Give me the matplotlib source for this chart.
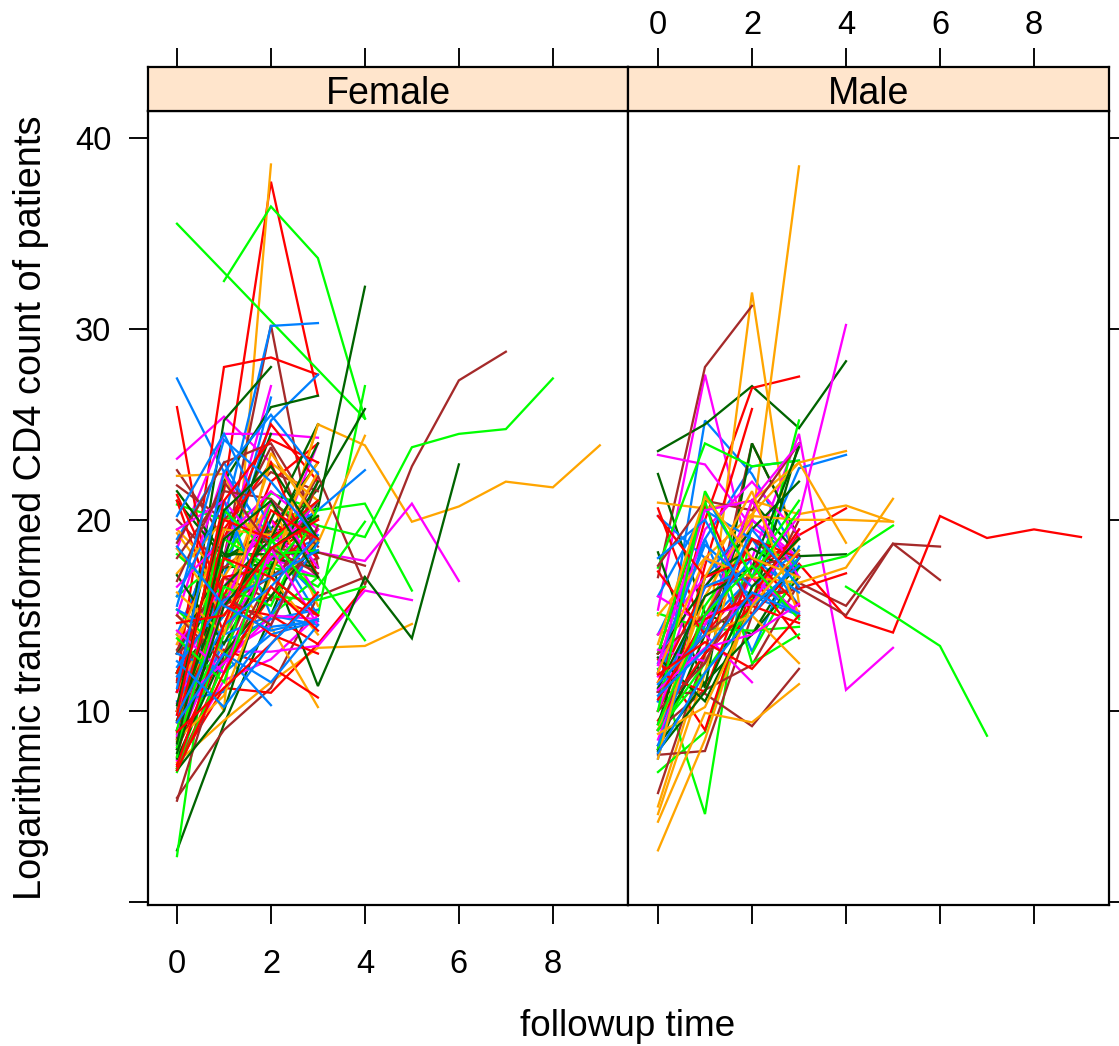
#!/usr/bin/env python3
# -*- coding: utf-8 -*-
"""Spaghetti plot of log CD4 counts by sex, lattice look."""

import matplotlib
matplotlib.use("Agg")
import numpy as np
import matplotlib.pyplot as plt

plt.rcParams["font.family"] = ["Liberation Sans", "DejaVu Sans"]

PANELS = ["Female", "Male"]
X_TICKS = [0, 2, 4, 6, 8]
Y_TICKS = [0, 10, 20, 30, 40]
Y_LABELS = ["", "10", "20", "30", "40"]

# each patient: CD4 value at followup 0, 1, 2 ... (None = no visit)
F_BLUE = [
    [27.4, 22.5, 19, 15], [14, 20, 30.15, 30.3], [13, 17, 25.2, 27.6], [10, 17, 26.4],
    [11, 13, 10.3], [9.5, 16, 19, 20.5, 22.6], [19, 23, 18.5, 16], [11.8, 15, 18, 19],
    [8.5, 13.6, 14.8, 15.3], [15.3, 14, 15, 14.5], [13, 12, 14, 14.7], [10.5, 11, 14.4, 14.7],
    [16, 21, 15, 18.8], [20.2, 24.5, 19.5], [12.3, 15.8, 17, 18.4], [9.8, 14.5, 16.5, 19.2],
    [15.5, 24.2, 22, 19], [9.4, 13, 11.5, 14.5], [12.6, 10.2, 13.5, 16], [18.6, 15.5, 14.2, 14.8],
    [11.2, 22.5, 25.5, 22.4],
]
F_MAGENTA = [
    [23.2, 25.4, 23], [10, 18, 27], [18.5, 24.5, 24.5, 24.3], [7.4, 11.6, 12.7, 15],
    [9, 13.1, 13.1, 13.4, 16.3, 15.8], [12, 16, 19, 18.3, 17.85, 20.85, 16.8],
    [15, 22.5, 17.8, 24], [11, 13, 14.5, 19.5], [19.5, 21, 18, 17], [13.5, 16.5, 20, 16],
    [8.2, 14, 18, 21], [16.5, 19, 21.5, 19.5], [10.4, 12.5, 15, 14.8], [8.7, 15.5, 21, 17.5],
    [14.2, 12, 18.5, 14.5],
]
F_DARKGREEN = [
    [2.7, 9.3, 15, 21], [10, 25.2, 28], [11, 22, 25.9, 26.5], [13, 18, 19, 21.6, 25.8],
    [12, 15, 18, 20.6, 32.2], [12, 17.5, 17.7, 11.3, 17, 13.8, 22.9], [21, 18, 19.5, 23],
    [8, 18, 24.5], [17.1, 13.5, 18, 17.5], [9, 14.5, 20, 25], [21.5, 18.2, 18.2, 18.3],
    [7.5, 13, 16, 18.8], [6.9, 10, 17.5, 22], [9.5, 16.5, 19, 24], [8.3, 19, 21, 17],
    [7.8, 15.5, 18.5, 20.2], [10.3, 20.5, 22.8, 19],
]
F_RED = [
    [13, 21.5, 37.7, 26.5], [11.6, 28, 28.5, 27.6], [25.9, 12.5, 16, 15],
    [7.2, 11.2, 10.95, 13.5, 16.5], [8, 13.2, 12.3, 10.7], [7, 12.5, 18, 20.1],
    [21, 14, 20, 18], [9, 16, 22, 24], [12, 19, 25, 22], [10, 15.5, 15, 13.5],
    [7.6, 17, 17.5, 19.5], [8.4, 19.5, 23, 17], [21.3, 16, 14, 13], [11, 20, 19, 21],
    [9.4, 18, 17, 15], [14.6, 15, 18.5, 20], [7.1, 14.5, 20.5, 19], [8.9, 11.2, 13.5, 16.2],
    [9.8, 21, 24.2, 23], [6.9, 12, 16.5, 14.2],
]
F_ORANGE = [
    [14, 10, 38.6], [7.3, 9.5, 11.5, 13.3, 13.4, 14.55],
    [19.3, 16, 17, 25, 23.9, 19.9, 20.7, 22, 21.7, 23.9],
    [14, 17, 14.4, 10.2], [11, 16, 21, 18.8, 24.4], [22.3, 22.4, 17, 14], [19.5, 17, 21, 15.5],
    [17.2, 20, 19.5, 19], [18.5, 15, 18, 22.5], [10, 15.5, 23, 21], [15, 13, 16, 19],
    [13.5, 19.5, 19.2, 23], [8.5, 10.8, 17, 25], [16.2, 14, 23.5, 20],
]
F_GREEN = [
    [35.5, 32.95, 30.4, 27.85, 25.3], [None, 32.5, 36.4, 33.7, 25.3], [2.4, 19.6, 17, 15, 27],
    [16, 18, 21.4, 20.5, 20.85, 16.3], [20.8, 20, 20.8, 19.7, 19.1, 23.8, 24.5, 24.75, 27.4],
    [15.3, 13, 15, 17, 13.7], [7, 14, 17.8, 16.5, 19.9], [12, 18, 16, 15.8, 16.5],
    [6.8, 12.5, 21, 19], [18.2, 16, 17.5, 17], [9, 19, 17.5, 20.2], [8.8, 14, 18.8, 21],
    [7.6, 20.5, 18.2, 18.4], [8.1, 16.5, 15.5, 20.6], [13.8, 11.5, 19, 16],
]
F_BROWN = [
    [12, 18, 30.2, 17.5], [5.45, 9, 11.2, 16, 17], [22.6, 19, 23.8, 18],
    [13, 15, 18, 22.3, 16.6, 22.8, 27.3, 28.8], [21.8, 20, 22.5, 21.5], [20, 17.5, 19.4, 17],
    [18.8, 23, 24, 20], [5.3, 13, 18.5, 18.3, 17.6], [11.5, 15.5, 17, 19], [13.2, 17, 15.8, 22],
    [18, 21.5, 21.1, 18.6], [15, 12.5, 17, 18], [8.6, 16, 14.5, 19.7], [16.8, 22, 18.5, 17.2],
]

M_BLUE = [
    [10.5, 25.2, 22.4, 18], [14, 19, 22.8, 23.1], [20.2, 18, 16, 15], [11, 21.3, 17, 22.7, 23.4],
    [12, 19, 13.1, 18.6], [9, 14.5, 17, 14.9], [7.5, 17, 20, 17.5], [16, 20.5, 19, 15.5],
    [10.5, 16.5, 17.5, 19], [12.5, 18.7, 16.5, 18.4], [8.2, 15, 18, 16.2], [18, 20, 15.5, 17.6],
    [11.4, 14, 19.5, 16.5], [7.8, 12, 15, 18], [10.8, 13.2, 16.2, 15.1],
]
M_MAGENTA = [
    [15.3, 27.6, 17.5, 15], [23.4, 22.9, 19.6, 18], [14, 17, 18, 24.5, 11.1, 13.3],
    [11, 18, 17, 20.2, 30.2], [11.8, 14, 11.5], [12, 19.5, 22, 19.2], [10, 16.5, 20, 18],
    [16, 14.5, 21, 24], [13.2, 12.6, 17, 15.2], [8.5, 15, 15.6, 19.5], [12.4, 20.5, 21, 17],
    [11.1, 13.3, 14, 15.6],
]
M_DARKGREEN = [
    [23.6, 25, 27, 24.8, 28.3], [22.4, 15.1, 14, 18], [18.3, 11.2, 24, 19], [8, 14, 21, 18.1, 18.2],
    [9, 13, 15.5, 24], [8.2, 11.5, 14, 17], [13, 16.5, 19.5, 22], [9.3, 17, 18.5, 17],
    [12.8, 10.5, 15.5, 17.5], [11.2, 16, 17.5, 23.8], [7.9, 11, 16.5, 19],
]
M_RED = [
    [11, 20, 26.9, 27.5], [8, 17.6, 25.8], [20.6, 14, 17, 19.2, 20.6], [12.7, 9, 16.5],
    [10, 15, 15.8, 16.4, 17.2], [13, 20.8, 15, 17.7, 14.9, 14.1, 20.2, 19.05, 19.5, 19.1],
    [9.5, 13, 15.5, 14.6], [11.5, 16.5, 17, 13.8], [12, 11, 17.5, 19], [17.3, 14, 19, 18],
    [20.2, 17, 18, 15.5], [10.6, 14.8, 16, 19.5], [11.9, 13.6, 12.2, 15],
]
M_ORANGE = [
    [5, 12.8, 31.9, 15.6], [14, 15, 19.8, 38.5], [20.9, 20.6, 21, 20.3, 20.75, 19.9],
    [2.7, 8.5, 16, 19], [4.2, 9.9, 9.4, 11.4], [4.6, 12, 21, 23, 18.8], [15, 18, 20.3, 23, 23.6],
    [9, 16, 20.2, 20, 20, 19.9], [11.5, 14, 15, 12.5], [12, 18, 17, 16.7, 17.5, 21.1],
    [7.5, 17, 21.5, 15], [13.5, 21.2, 18, 17], [8.8, 10.2, 15.5, 18.4],
]
M_GREEN = [
    [12.2, 4.6, 19.9], [6.8, 8.9, 16, 18], [17.5, 24, 22.8, 23.1], [9, 12, 15.6, 25.2],
    [15.1, 14.3, 14.2, 14.4], [None, None, 13, 17.5, 18.1, 19.7], [8, 15.5, 19, 17.5],
    [13, 21, 12.5, 14], [9, 12.5, 17.5, 21], [None, None, None, None, 16.5, 15, 13.4, 8.7],
    [10, 21.5, 17, 20.5], [9.3, 15, 17.6, 14.8],
]
M_BROWN = [
    [17, 28, 31.2], [5.7, 13, 24, 19], [7.7, 7.9, 15, 20], [11, 10.9, 9.2, 12.2],
    [9, 11.1, 12.4, 16.7, 15.5, 18.75, 18.6], [11, 14, 16, 16.4, 15, 18.75, 16.85],
    [17.6, 21, 20.5, 24], [13, 15, 19, 17], [10, 12.5, 17.5, 18.2],
]

COLORS = ["#0080ff", "#ff00ff", "#006400", "#ff0000", "#ffa500", "#00ff00", "#a52a2a"]
FEMALE = [F_BLUE, F_MAGENTA, F_DARKGREEN, F_RED, F_ORANGE, F_GREEN, F_BROWN]
MALE = [M_BLUE, M_MAGENTA, M_DARKGREEN, M_RED, M_ORANGE, M_GREEN, M_BROWN]

W, H = 1119, 1046
LEFT, MID, RIGHT = 148, 628, 1109
TOP, STRIP_TOP, BOTTOM = 111, 67, 905


def box(x0, y0, x1, y1):
    return [x0 / W, 1 - y1 / H, (x1 - x0) / W, (y1 - y0) / H]


def draw_lines(ax, groups):
    n = max(len(g) for g in groups)
    # same order the groups come in, colours cycling
    for i in range(n):
        for col, g in zip(COLORS, groups):
            if i < len(g):
                y = np.array(g[i], dtype=float)
                ax.plot(np.arange(len(y)), y, color=col, lw=1.65, solid_joinstyle="miter")


fig = plt.figure(figsize=(W / 100, H / 100), dpi=100)

for k, (name, groups) in enumerate(zip(PANELS, [FEMALE, MALE])):
    x0, x1 = (LEFT, MID) if k == 0 else (MID, RIGHT)
    ax = fig.add_axes(box(x0, TOP, x1, BOTTOM))
    strip = fig.add_axes(box(x0, STRIP_TOP, x1, TOP))

    draw_lines(ax, groups)
    if k == 0:
        ax.set_xlim(-0.617, 9.6)
    else:
        ax.set_xlim(-0.638, 9.596)
    ax.set_ylim(-0.16, 41.4)

    ax.set_xticks(X_TICKS)
    ax.set_yticks(Y_TICKS)
    ax.tick_params(axis="both", length=13.5, width=1.35, labelsize=23.5, pad=18)
    ax.tick_params(axis="y", pad=13, left=(k == 0), right=(k == 1),
                   labelleft=(k == 0), labelright=False)
    if k == 0:
        ax.set_yticklabels(Y_LABELS)
        ax.set_xticklabels([str(t) for t in X_TICKS])
    else:
        ax.tick_params(axis="x", labelbottom=False)

    strip.set_facecolor("#ffe5cc")
    strip.set_xlim(ax.get_xlim())
    strip.set_ylim(0, 1)
    strip.set_yticks([])
    strip.set_xticks(X_TICKS)
    strip.tick_params(axis="x", top=True, bottom=False, labelbottom=False,
                      labeltop=(k == 1), length=13.5, width=1.35, labelsize=23.5, pad=5)
    strip.text(0.5, 0.38, name, transform=strip.transAxes, ha="center", va="center", fontsize=27)

    for a in (ax, strip):
        for s in a.spines.values():
            s.set_linewidth(1.6)

fig.text(628 / W, 1 - 1026 / H, "followup time", ha="center", va="center", fontsize=26.6)
fig.text(31 / W, 1 - 508 / H, "Logarithmic transformed CD4 count of patients",
         rotation=90, ha="center", va="center", fontsize=27.3)

fig.savefig("out.png", dpi=100)
plt.close(fig)
